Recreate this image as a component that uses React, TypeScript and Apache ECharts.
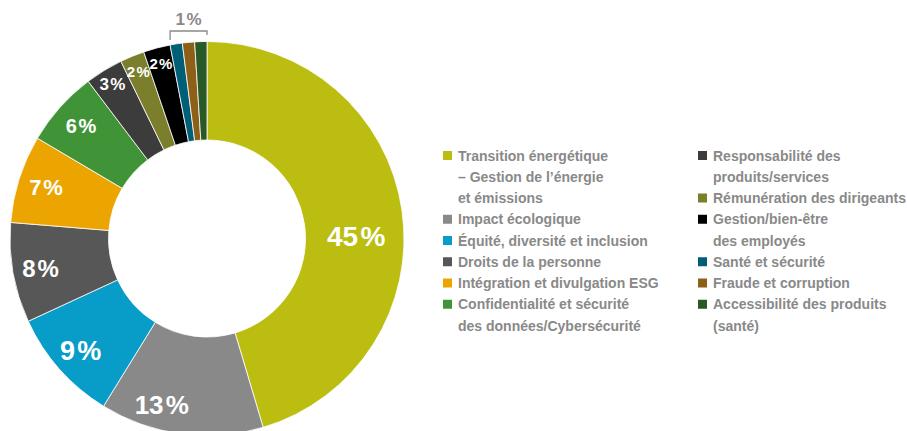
import React, { useEffect, useRef } from 'react';
import * as echarts from 'echarts';

// ---------- data ----------
const CATEGORIES: string[] = [
  'Transition énergétique\n– Gestion de l’énergie\net émissions',
  'Impact écologique',
  'Équité, diversité et inclusion',
  'Droits de la personne',
  'Intégration et divulgation ESG',
  'Confidentialité et sécurité\ndes données/Cybersécurité',
  'Responsabilité des\nproduits/services',
  'Rémunération des dirigeants',
  'Gestion/bien-être\ndes employés',
  'Santé et sécurité',
  'Fraude et corruption',
  'Accessibilité des produits\n(santé)',
];
// shares (%); labels show them rounded
const SHARES: number[] = [45.4, 13.4, 9.3, 8.2, 7.2, 6.2, 3.1, 2.0, 2.2, 1.0, 1.0, 1.0];
const PERCENT_SUFFIX = '\u200A%';
const SMALL_GROUP_TEXT = '1\u200A%';
const SMALL_GROUP_SIZE = 3; // last three slices share the "1 %" bracket
const LEFT_COLUMN_COUNT = 6;

// ---------- styles ----------
const COLORS = [
  '#bbbd10', '#898989', '#089cc8', '#575757', '#eca400', '#409437',
  '#3c3c3c', '#7b7e2a', '#000000', '#005e77', '#8d5f17', '#285927',
];
const LABEL_FONT_SIZES = [28, 26, 27, 24, 22, 20, 17, 15, 15, 0, 0, 0];
const LABEL_RING = [0, 1, 1, 1, 1, 1, 2, 2, 2, -1, -1, -1];
const LABEL_NUDGE: [number, number][] = [
  [0, 20], [-23, -1], [0, 0], [0, 0], [0, 0], [0, 0],
  [0, 0], [0, 0], [0, 0], [0, 0], [0, 0], [0, 0],
];
const CX = 207;
const CY = 238.5;
const R0 = 98.5;
const R = 197;
const RINGS: [number, number][] = [[R0, R], [135, R], [159, R]];
const LEGEND_FONT = "'Liberation Sans', Arial, sans-serif";
const LABEL_FONT = "'Liberation Sans', Arial, sans-serif";
const TEXT_GRAY = '#898989';
const LEGEND_LINE = 21.25;
const LEGEND_FONT_SIZE = 14;
const LEGEND_FIRST_CENTER = 155.5;
const LEGEND_COLUMN_X = [441, 696];

export default function App() {
  const ref = useRef<HTMLDivElement>(null);

  useEffect(() => {
    if (!ref.current) return;
    const chart = echarts.init(ref.current, null, { renderer: 'svg' });

    const labelBase = {
      position: 'inside',
      rotate: 0,
      color: '#ffffff',
      fontFamily: LABEL_FONT,
      fontWeight: 'bold',
      formatter: (p: any) => `${Math.round(p.value)}${PERCENT_SUFFIX}`,
    };

    const series = RINGS.map((radius, ring) => ({
      type: 'pie',
      name: ring === 0 ? 'Répartition' : `labels-${ring}`,
      center: [CX, CY],
      radius,
      startAngle: 90,
      clockwise: true,
      silent: true,
      avoidLabelOverlap: false,
      labelLine: { show: false },
      z: ring === 0 ? 2 : 3,
      itemStyle:
        ring === 0
          ? { borderColor: '#ffffff', borderWidth: 0.8 }
          : { color: 'rgba(0,0,0,0)', borderWidth: 0 },
      label: { ...labelBase, show: true },
      labelLayout: (p: any) => {
        const n = LABEL_NUDGE[p.dataIndex] || [0, 0];
        return { dx: n[0], dy: n[1] };
      },
      emphasis: { disabled: true },
      data: CATEGORIES.map((name, i) => ({
        name,
        value: SHARES[i],
        itemStyle: ring === 0 ? { color: COLORS[i] } : { color: 'rgba(0,0,0,0)' },
        label: { show: LABEL_RING[i] === ring, fontSize: LABEL_FONT_SIZES[i] || 12 },
      })),
    }));

    // one legend block per entry so that the marker sits on the entry's first line
    const legendBase = {
      orient: 'vertical',
      padding: 0,
      itemWidth: 11,
      itemHeight: 11,
      itemGap: 0,
      icon: 'rect',
      selectedMode: false,
      textStyle: {
        fontFamily: LEGEND_FONT,
        fontWeight: 'bold',
        fontSize: LEGEND_FONT_SIZE,
        color: TEXT_GRAY,
        lineHeight: LEGEND_LINE,
        rich: { z: {} },
      },
    };
    const rowsUsed = [0, 0];
    const legends = CATEGORIES.map((name, i) => {
      const col = i < LEFT_COLUMN_COUNT ? 0 : 1;
      const lines = name.split('\n').length;
      const row = rowsUsed[col];
      rowsUsed[col] += lines;
      const firstCenter = LEGEND_FIRST_CENTER + row * LEGEND_LINE;
      return {
        ...legendBase,
        left: LEGEND_COLUMN_X[col],
        top: firstCenter - ((2 * lines - 1) * LEGEND_LINE) / 2,
        data: [{ name, textStyle: { padding: [(lines - 1) * LEGEND_LINE, 0, 0, 0] } }],
      };
    });

    // bracket over the smallest slices, derived from the data
    const total = SHARES.reduce((a, b) => a + b, 0);
    const groupStart = total - SHARES.slice(-SMALL_GROUP_SIZE).reduce((a, b) => a + b, 0);
    const theta = (groupStart / total) * 2 * Math.PI;
    const leftX = CX + R * Math.sin(theta);
    const rightX = CX;
    const bracketY = CY - R - 10.5;

    chart.setOption({
      animation: false,
      backgroundColor: '#ffffff',
      legend: legends,
      series,
      graphic: [
        {
          type: 'polyline',
          silent: true,
          shape: {
            points: [
              [leftX, bracketY + 9],
              [leftX, bracketY],
              [rightX, bracketY],
              [rightX, bracketY + 4],
            ],
          },
          style: { stroke: TEXT_GRAY, lineWidth: 1.3, fill: null },
        },
        {
          type: 'text',
          silent: true,
          x: (leftX + rightX) / 2,
          y: bracketY - 12,
          style: {
            text: SMALL_GROUP_TEXT,
            fill: TEXT_GRAY,
            fontFamily: LABEL_FONT,
            fontWeight: 'bold',
            fontSize: 17,
            align: 'center',
            verticalAlign: 'middle',
          },
        },
      ],
    });

    return () => chart.dispose();
  }, []);

  return (
    <div
      ref={ref}
      style={{ position: 'fixed', left: 0, top: 0, width: 907, height: 431, background: '#fff' }}
    />
  );
}
